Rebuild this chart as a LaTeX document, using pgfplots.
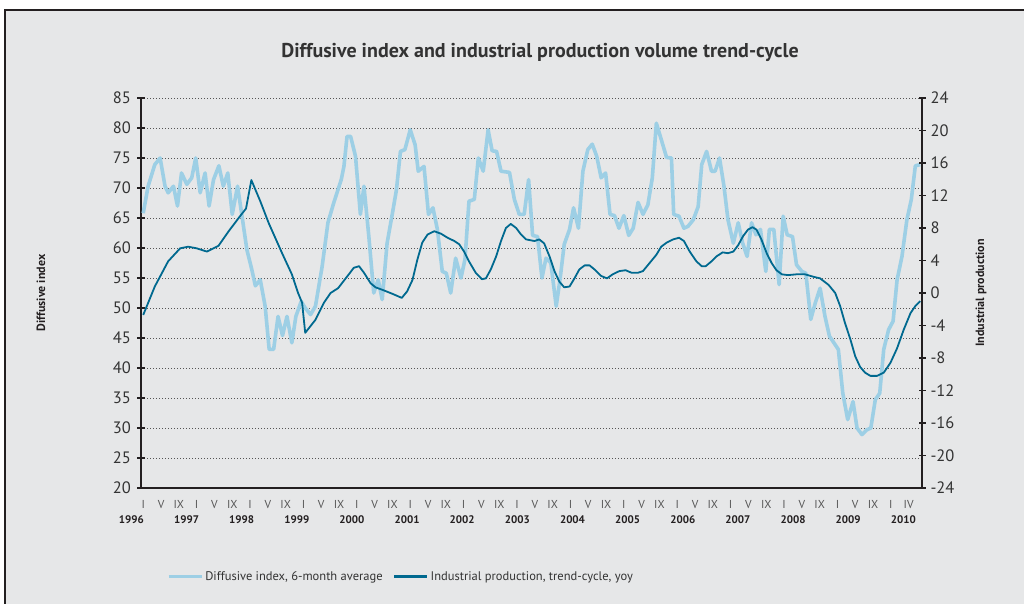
\documentclass[border=0pt]{standalone}
\usepackage{pgfplots}
\pgfplotsset{compat=1.18}
\usepackage{fontspec}
\setmainfont{PT Sans}
\definecolor{bg}{HTML}{E6E7E8}
\definecolor{lightc}{HTML}{9DCFE5}
\definecolor{darkc}{HTML}{00698F}
\definecolor{axisc}{HTML}{231F20}
\definecolor{txt}{HTML}{333333}
\definecolor{gridc}{HTML}{555555}
\tikzset{yearlab/.style={font=\bfseries\fontsize{11}{11}\selectfont, text=axisc, yshift=-32pt}}
\begin{document}
\begin{tikzpicture}[x=1pt,y=1pt]
\useasboundingbox (0,0) rectangle (1024,603);
\fill[white] (0,0) rectangle (1024,603);
\fill[bg] (5,-5) rectangle (1030,593);
\draw[line width=2pt, color=axisc] (5,-5) -- (5,593) -- (1030,593);
\node[font=\bfseries\fontsize{20}{20}\selectfont, text=txt] at (540,551) {Diffusive index and industrial production volume trend-cycle};
\begin{axis}[
  at={(141pt,115pt)}, anchor=south west, scale only axis,
  width=781pt, height=390pt,
  xmin=-0.5, xmax=175, ymin=20, ymax=85,
  clip=false,
  axis x line*=bottom, axis y line*=left,
  axis line style={line width=1.6pt, color=axisc, -},
  ytick={20,25,...,85},
  ymajorgrids, grid style={color=gridc, line width=0.9pt, dash pattern=on 1.2pt off 1.8pt},
  major tick length=7pt, tick align=center,
  y tick style={line width=1.2pt, color=axisc},
  x tick style={draw=none},
  xtick={0,4,...,168,172},
  xticklabels={I,V,IX,I,V,IX,I,V,IX,I,V,IX,I,V,IX,I,V,IX,I,V,IX,I,V,IX,I,V,IX,I,V,IX,I,V,IX,I,V,IX,I,V,IX,I,V,IX,I,IV},
  x tick label style={font=\fontsize{11.5}{11.5}\selectfont, text=gridc, yshift=-5pt},
  y tick label style={font=\fontsize{16.5}{16.5}\selectfont, text=txt, xshift=-3pt},
  /pgf/number format/assume math mode=true,
  ylabel={Diffusive index},
  ylabel style={at={(axis description cs:-0.1280,0.5)}, anchor=center, font=\bfseries\fontsize{12}{12}\selectfont, text=axisc},
]
\addplot[lightc, line width=3.6pt, line join=round] coordinates {
(0,65.8) (1.1,70.3) (2.6,73.9) (3.8,75) (4.9,70.3) (5.6,69.2) (6.8,70.3) (7.7,67) (8.6,72.5) (9.8,70.6) (10.9,71.7) (11.8,75) (12.8,69.2) (13.9,72.5) (14.8,67) (15.8,71.4) (17,73.7) (18,70.3) (19,72.5) (20,65.6) (21.2,70.3) (22.2,65.3) (23.3,59.7) (24.4,56.4) (25.2,53.7) (26.3,54.7) (27.4,50.3) (28.3,43.1) (29.3,43.1) (30.3,48.6) (31.3,45.4) (32.3,48.6) (33.4,44.2) (34.3,48.6) (35.5,51.1) (36.4,50) (37.6,48.9) (38.7,50.3) (40.2,56.9) (41.5,64.2) (42.8,67.5) (44.5,71.4) (45.1,73.6) (45.8,78.6) (46.6,78.6) (47.7,75.3) (48.8,65.6) (49.6,70.3) (50.7,61.9) (51.8,52.5) (52.8,54.7) (53.7,51.4) (54.8,60.8) (56,65.8) (56.9,69.7) (57.8,76.1) (58.8,76.4) (60,79.7) (61.1,77.2) (61.8,72.8) (63.1,73.6) (64.1,65.6) (65.1,66.7) (66.1,63.1) (67.2,56.1) (68.1,55.8) (69.1,52.5) (70.2,58.3) (71.4,55) (72.3,58.1) (73.2,67.8) (74.4,68.1) (75.3,75) (76.4,72.8) (77.5,79.7) (78.4,76.2) (79.4,76.1) (80.4,72.8) (82.3,72.6) (83.4,68.1) (84.5,65.6) (85.6,65.6) (86.6,71.4) (87.5,62.1) (88.6,61.9) (89.6,55) (90.5,58.3) (91.6,57.5) (92.8,50.3) (93.7,55) (94.6,60.6) (95.8,63.1) (96.7,66.7) (97.8,63.3) (98.8,72.8) (99.9,76.4) (100.9,77.3) (101.9,75.3) (102.9,71.7) (103.9,72.5) (104.9,65.6) (105.9,65.4) (106.9,63.3) (108,65.4) (109.1,62.1) (110.1,63.3) (111.2,67.6) (112.3,65.6) (113.4,67.2) (114.4,71.7) (115.3,80.8) (116.4,78.1) (117.6,75.1) (118.7,75) (119.2,65.6) (120.4,65.3) (121.5,63.3) (122.4,63.6) (123.6,64.7) (124.7,66.9) (125.5,73.9) (126.6,76.1) (127.7,72.8) (128.5,72.8) (129.5,75) (130.5,70.3) (131.4,64.7) (132.6,60.8) (133.7,64.2) (134.7,60.8) (135.7,58.6) (136.7,64.2) (137.7,62.2) (138.7,63.1) (139.9,56.1) (140.7,63.1) (141.7,63.1) (142.9,53.9) (143.8,65.3) (144.7,62.2) (145.9,61.9) (146.8,57.2) (148,56.1) (148.9,55.8) (150,48.1) (151,50.8) (152.1,53.3) (153.2,48.6) (154.2,45.3) (155.2,44.2) (156.2,43.1) (157.2,35.8) (158.3,31.4) (159.5,34.4) (160.4,30) (161.5,28.9) (162.6,29.7) (163.5,30) (164.5,34.7) (165.5,35.8) (166.4,43.1) (167.5,46.4) (168.5,47.8) (169.4,54.7) (170.5,58.6) (171.6,64.7) (172.6,68.1) (173.5,73.7) (174.6,73.9)
};
\node[yearlab] at (axis cs:-2.66,20) {1996};
\node[yearlab] at (axis cs:9.73,20) {1997};
\node[yearlab] at (axis cs:22.12,20) {1998};
\node[yearlab] at (axis cs:34.51,20) {1999};
\node[yearlab] at (axis cs:46.90,20) {2000};
\node[yearlab] at (axis cs:59.29,20) {2001};
\node[yearlab] at (axis cs:71.68,20) {2002};
\node[yearlab] at (axis cs:84.07,20) {2003};
\node[yearlab] at (axis cs:96.46,20) {2004};
\node[yearlab] at (axis cs:108.85,20) {2005};
\node[yearlab] at (axis cs:121.24,20) {2006};
\node[yearlab] at (axis cs:133.63,20) {2007};
\node[yearlab] at (axis cs:146.02,20) {2008};
\node[yearlab] at (axis cs:158.41,20) {2009};
\node[yearlab] at (axis cs:170.80,20) {2010};
\end{axis}
\begin{axis}[
  at={(141pt,115pt)}, anchor=south west, scale only axis,
  width=781pt, height=390pt,
  xmin=-0.5, xmax=175, ymin=-24, ymax=24,
  axis x line=none, axis y line*=right,
  axis line style={line width=1.6pt, color=axisc, -},
  ytick={-24,-20,...,24},
  major tick length=7pt, tick align=center,
  y tick style={line width=1.2pt, color=axisc},
  y tick label style={font=\fontsize{16.5}{16.5}\selectfont, text=txt, xshift=1.5pt},
  /pgf/number format/assume math mode=true,
  ylabel={Industrial production},
  ylabel style={at={(axis description cs:1.0755,0.5)}, anchor=center, font=\bfseries\fontsize{12}{12}\selectfont, text=axisc},
  legend style={at={(axis description cs:0.333,-0.228)}, anchor=center, draw=none, fill=none, font=\fontsize{12.5}{12.5}\selectfont, text=txt, /tikz/every even column/.append style={column sep=8pt}},
  legend columns=2,
  legend image code/.code={\draw[#1,line width=3pt] (0pt,0pt) -- (33pt,0pt);},
]
\addlegendimage{lightc}
\addlegendentry{Diffusive index, 6-month average}
\addplot[darkc, line width=1.8pt, line join=round] coordinates {
(0,-2.7) (2.6,0.8) (5.6,3.9) (8.3,5.5) (10.1,5.7) (12,5.5) (14.3,5.1) (16.9,5.8) (19.2,7.6) (21.4,9.2) (23.1,10.4) (24.3,13.9) (26.3,11.3) (28.2,8.6) (31.2,4.9) (33.4,2.3) (34.8,0) (35.7,-1.2) (36.4,-4.9) (38.7,-3.3) (40.6,-1.2) (42.1,0) (43.8,0.6) (46.2,2.3) (47.3,3.1) (48.5,3.3) (49.6,2.5) (51.1,1.2) (52.2,0.7) (53.7,0.4) (56,-0.1) (58.1,-0.6) (59.3,0.2) (60.5,1.6) (61.6,4.1) (62.7,6.2) (63.9,7.2) (65.4,7.6) (66.9,7.3) (68.4,6.8) (69.9,6.4) (71,6) (72.1,5.1) (73.2,3.9) (74.7,2.5) (76.1,1.7) (77,1.8) (78.1,2.9) (79.3,4.5) (80.4,6.4) (81.5,8) (82.6,8.5) (83.8,8) (84.9,7.2) (86,6.6) (87.9,6.4) (89,6.6) (90.1,6.1) (91.3,4.5) (92.4,2.7) (93.5,1.4) (94.6,0.7) (95.8,0.8) (96.9,1.8) (98,2.9) (99.2,3.4) (100.3,3.4) (101.4,2.9) (102.9,2.1) (104.2,1.8) (105.5,2.3) (107,2.7) (108.4,2.8) (109.7,2.5) (111.2,2.5) (112.3,2.7) (113.8,3.7) (115.3,4.7) (116.4,5.7) (117.6,6.2) (119.1,6.6) (120.4,6.8) (121.5,6.4) (122.8,5.1) (124.3,3.9) (125.5,3.3) (126.4,3.3) (127.7,3.9) (128.8,4.5) (130.2,5) (131.4,4.9) (132.6,5.1) (133.7,5.9) (134.8,7) (135.9,7.8) (136.9,8.1) (137.8,7.8) (138.9,6.6) (140.1,4.9) (141.2,3.7) (142.3,2.8) (143.5,2.3) (144.9,2.2) (146.8,2.3) (148.7,2.3) (150.6,2) (152.1,1.8) (154,1) (155.5,0) (156.6,-1.6) (157.7,-3.7) (158.9,-5.7) (160,-7.8) (161.1,-9.1) (162.2,-9.8) (163.4,-10.2) (164.9,-10.2) (166.4,-9.8) (167.9,-8.6) (169.4,-6.8) (170.9,-4.5) (172.4,-2.5) (173.5,-1.6) (174.6,-1)
};
\addlegendentry{Industrial production, trend-cycle, yoy}
\end{axis}
\end{tikzpicture}
\end{document}
